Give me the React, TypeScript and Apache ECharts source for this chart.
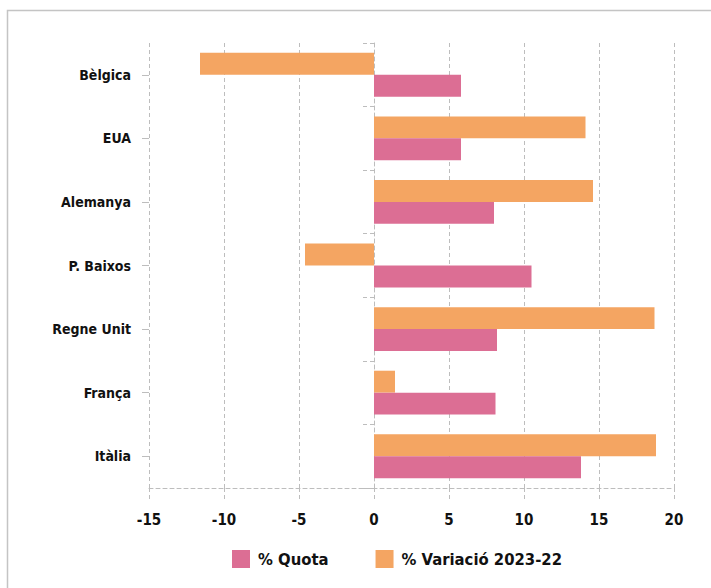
import React, { useEffect, useRef } from "react";
import * as echarts from "echarts";

const categories = ["Itàlia", "França", "Regne Unit", "P. Baixos", "Alemanya", "EUA", "Bèlgica"];
const quota = [13.8, 8.1, 8.2, 10.5, 8.0, 5.8, 5.8];
const variacio = [18.8, 1.4, 18.7, -4.6, 14.6, 14.1, -11.6];
const seriesNames = ["% Quota", "% Variació 2023-22"];

const FONT = "'DejaVu Sans Condensed', 'Liberation Sans Narrow', sans-serif";
const GRID_COLOR = "#bdbdbd";

export default function App() {
  const ref = useRef<HTMLDivElement>(null);
  useEffect(() => {
    if (!ref.current) return;
    const chart = echarts.init(ref.current, null, { renderer: "svg" });
    chart.setOption({
      animation: false,
      textStyle: { fontFamily: FONT },
      graphic: [
        {
          type: "rect",
          shape: { x: 7.5, y: 10.5, width: 800, height: 700 },
          style: { fill: "none", stroke: "#c4c4c4", lineWidth: 1.5 },
          silent: true,
        },
      ],
      legend: {
        data: seriesNames,
        top: 545,
        left: 227,
        itemWidth: 18,
        itemHeight: 18,
        itemGap: 47,
        icon: "rect",
        textStyle: { fontFamily: FONT, fontWeight: "bold", fontSize: 16.5, color: "#111", padding: [0, 0, 0, 3] },
      },
      grid: { left: 149, right: 37, top: 43, bottom: 100 },
      xAxis: {
        type: "value",
        min: -15,
        max: 20,
        interval: 5,
        axisLine: { show: true, lineStyle: { color: GRID_COLOR, type: [4, 3] } },
        axisTick: { show: true, length: 11, lineStyle: { color: GRID_COLOR, type: [4, 3] } },
        splitLine: { show: true, lineStyle: { color: GRID_COLOR, type: [4, 3] } },
        axisLabel: { margin: 24, fontFamily: FONT, fontWeight: "bold", fontSize: 15, color: "#111" },
      },
      yAxis: [
        {
          type: "category",
          data: categories,
          axisLine: { show: true, lineStyle: { color: GRID_COLOR, type: [4, 3] } },
          axisTick: { show: true, length: 11, lineStyle: { color: GRID_COLOR, type: [4, 3] } },
          axisLabel: { margin: 18, fontFamily: FONT, fontWeight: "bold", fontSize: 14, color: "#111" },
        },
        {
          type: "category",
          data: categories,
          position: "left",
          axisLine: { show: false },
          axisTick: { show: true, alignWithLabel: true, length: 7, lineStyle: { color: GRID_COLOR } },
          axisLabel: { show: false },
        },
      ],
      series: [
        {
          name: seriesNames[1],
          type: "bar",
          data: variacio,
          itemStyle: { color: "#F4A562" },
          barGap: "0%",
          barCategoryGap: "31%",
        },
        {
          name: seriesNames[0],
          type: "bar",
          data: quota,
          itemStyle: { color: "#DC6E94" },
          barGap: "0%",
          barCategoryGap: "31%",
        },
      ],
    });
    return () => chart.dispose();
  }, []);
  return (
    <div
      ref={ref}
      style={{ position: "absolute", left: 0, top: 0, width: 711, height: 588, background: "#fff" }}
    />
  );
}
